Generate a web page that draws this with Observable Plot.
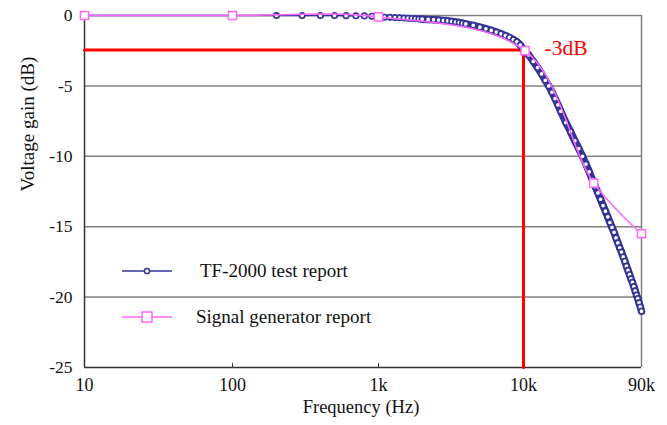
<!DOCTYPE html>
<html><head><meta charset="utf-8">
<script src="https://cdn.jsdelivr.net/npm/d3@7"></script>
<script src="https://cdn.jsdelivr.net/npm/@observablehq/plot@0.6"></script>
<style>
html,body{margin:0;padding:0;background:#fff;}
#chart{width:667px;height:425px;}
#chart svg, #chart svg text{font-family:"Liberation Serif","Times New Roman",serif !important;}
</style></head><body><div id="chart"></div>
<script>
// ---- data ----
const tfFreq = [10,100,200,300,400,500,600,700,800,900,
  1000,1100,1200,1300,1400,1500,1600,1700,1800,1900,2000,
  2200,2400,2600,2800,3000,3200,3400,3600,3800,4000,
  4500,5000,5500,6000,6500,7000,7500,8000,8500,9000,9500,10000,
  11000,12000,13000,14000,15000,16000,17000,18000,19000,20000,
  22000,24000,26000,28000,30000,32000,34000,36000,38000,40000,
  42000,44000,46000,48000,50000,52000,54000,56000,58000,60000,
  62000,64000,66000,68000,70000,72000,74000,76000,78000,80000,
  82000,84000,86000,88000,90000];
const tfGain = [0,0,0,0,0,0,-0.01,-0.02,-0.03,-0.05,
  -0.1,-0.12,-0.13,-0.15,-0.16,-0.18,-0.19,-0.21,-0.22,-0.24,-0.26,
  -0.28,-0.3,-0.32,-0.35,-0.38,-0.42,-0.46,-0.5,-0.55,-0.6,
  -0.7,-0.83,-0.94,-1.06,-1.18,-1.3,-1.43,-1.56,-1.71,-1.87,-2.1,-2.4,
  -2.8,-3.26,-3.7,-4.15,-4.6,-5.0,-5.45,-5.9,-6.35,-6.8,
  -7.6,-8.25,-8.9,-9.45,-10.0,-10.55,-11.1,-11.65,-12.15,-12.6,
  -13.05,-13.5,-13.9,-14.3,-14.7,-15.05,-15.4,-15.8,-16.15,-16.5,
  -16.8,-17.15,-17.45,-17.8,-18.1,-18.4,-18.7,-18.95,-19.25,-19.55,
  -19.85,-20.1,-20.4,-20.7,-21.0];
const sgFreq = [10, 100, 1000, 10300, 37000, 90000];
const sgGain = [0, 0, -0.1, -2.5, -11.9, -15.5];
const xTickValues = [10, 100, 1000, 10000, 90000];
const xTickLabels = ["10", "100", "1k", "10k", "90k"];
const yTickValues = [-25, -20, -15, -10, -5, 0];
const yTickLabels = ["-25", "-20", "-15", "-10", "-5", "0"];
const cutoffFreq = 10000;
const cutoffGain = -2.45;
const cutoffLabel = "-3dB";
const seriesNames = ["TF-2000 test report", "Signal generator report"];
const xTitle = "Frequency (Hz)";
const yTitle = "Voltage gain (dB)";

const tf = tfFreq.map((f, i) => ({f, g: tfGain[i]}));
const tfDense = tf.filter(d => d.f >= 2000);
const sg = sgFreq.map((f, i) => ({f, g: sgGain[i]}));
const yMin = yTickValues[0], yMax = yTickValues[yTickValues.length - 1];
const xMin = xTickValues[0], xMax = xTickValues[xTickValues.length - 1];
const cutoffPath = [
  {f: xMin, g: cutoffGain},
  {f: cutoffFreq, g: cutoffGain},
  {f: cutoffFreq, g: yMin}
];

const FONT = "'Liberation Serif', 'Times New Roman', serif";
const navy = "#333399";
const pink = "#ff66ff";

const chart = Plot.plot({
  width: 667,
  height: 425,
  marginLeft: 84,
  marginRight: 26,
  marginTop: 15,
  marginBottom: 58,
  style: {fontFamily: FONT, fontSize: "17px", background: "#fff", color: "#111"},
  x: {type: "log", domain: xTickValues, range: [84, 232, 378, 523, 641], axis: null},
  y: {domain: [yMin, yMax], range: [367, 15], axis: null},
  marks: [
    Plot.ruleY(yTickValues.filter(v => v > yMin), {stroke: "#808080", strokeWidth: 1.5}),
    Plot.ruleX([xMax], {stroke: "#808080", strokeWidth: 1.5}),
    Plot.ruleX([xMin], {stroke: "#333", strokeWidth: 1.5}),
    Plot.ruleY([yMin], {stroke: "#333", strokeWidth: 1.5}),
    Plot.ruleX(xTickValues.slice(1, -1), {x: d => d, y1: yMin, y2: yMin, insetBottom: 4, stroke: "#333", strokeWidth: 1}),
    Plot.text(xTickValues, {x: d => d, y: yMin, dy: 18, text: (d, i) => xTickLabels[i], fontFamily: FONT, fontSize: 18, fill: "#111"}),
    Plot.text(yTickValues, {x: xMin, y: d => d, dx: -12, textAnchor: "end", text: (d, i) => yTickLabels[i], fontFamily: FONT, fontSize: 17.5, fill: "#111"}),
    Plot.text([xTitle], {frameAnchor: "bottom", dx: -2, dy: 45, fontFamily: FONT, fontSize: 18.5, fill: "#111"}),
    Plot.text([yTitle], {frameAnchor: "left", rotate: -90, dx: -57, fontFamily: FONT, fontSize: 19, fill: "#111"}),
    Plot.line(cutoffPath, {x: "f", y: "g", stroke: "#ff0000", strokeWidth: 3}),
    Plot.text([cutoffLabel], {x: [cutoffFreq], y: [cutoffGain], dx: 21, dy: -2, textAnchor: "start", fill: "#ff0000", fontFamily: FONT, fontSize: 21.5}),
    Plot.line(tf, {x: "f", y: "g", stroke: navy, strokeWidth: 1.5}),
    Plot.line(tfDense, {x: "f", y: "g", stroke: navy, strokeWidth: 7.5, strokeLinecap: "round"}),
    Plot.dot(tf, {x: "f", y: "g", r: 2.7, stroke: navy, strokeWidth: 1.7, fill: "#fff"}),
    Plot.line(sg, {x: "f", y: "g", stroke: pink, strokeWidth: 1.5, curve: "catmull-rom"}),
    Plot.dot(sg, {x: "f", y: "g", symbol: "square", r: 4.6, stroke: pink, strokeWidth: 1.5, fill: "#fff"})
  ]
});

// legend (inside the plot area, as in the reference)
const svg = d3.select(chart);
const leg = svg.append("g").attr("font-family", FONT).attr("font-size", 19).attr("fill", "#111").attr("text-anchor", "start");
const items = [
  {name: seriesNames[0], color: navy, y: 271, shape: "circle", tx: 200},
  {name: seriesNames[1], color: pink, y: 317, shape: "square", tx: 196}
];
items.forEach(it => {
  leg.append("line").attr("x1", 122).attr("x2", 172).attr("y1", it.y).attr("y2", it.y)
    .attr("stroke", it.color).attr("stroke-width", 1.5);
  if (it.shape === "circle") {
    leg.append("circle").attr("cx", 147).attr("cy", it.y).attr("r", 2.6)
      .attr("fill", "#fff").attr("stroke", it.color).attr("stroke-width", 1.5);
  } else {
    leg.append("rect").attr("x", 142).attr("y", it.y - 5).attr("width", 10).attr("height", 10)
      .attr("fill", "#fff").attr("stroke", it.color).attr("stroke-width", 1.5);
  }
  leg.append("text").attr("x", it.tx).attr("y", it.y).attr("dy", "0.32em").attr("text-anchor", "start").text(it.name);
});

document.getElementById("chart").appendChild(chart);
</script>
</body></html>
